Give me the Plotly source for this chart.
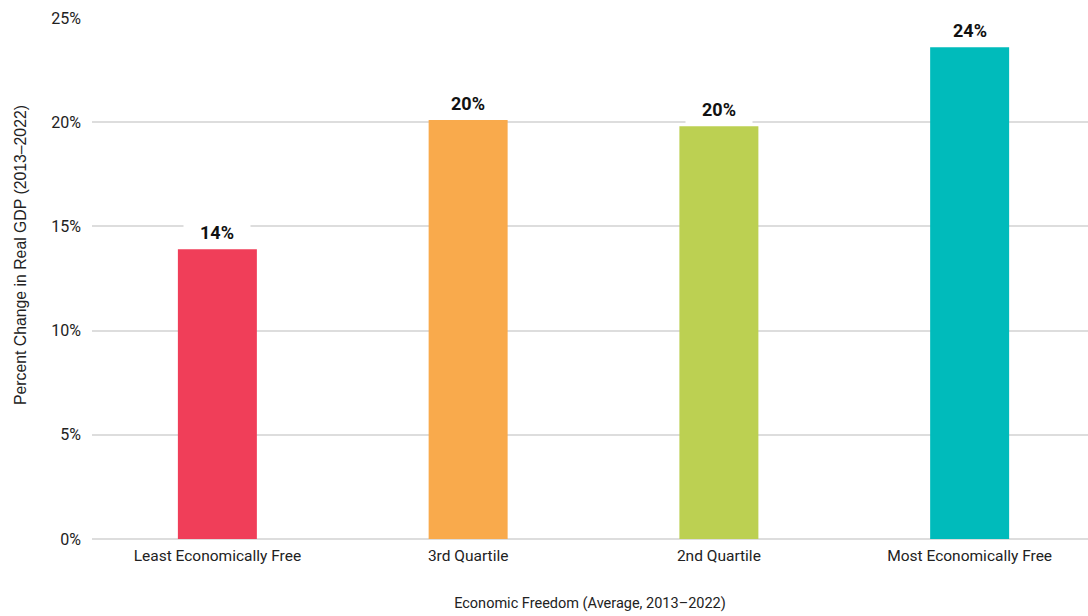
import plotly.graph_objects as go

# Economic freedom quartiles and their real GDP growth, 2013-2022 (percent)
categories = ["Least Economically Free", "3rd Quartile", "2nd Quartile", "Most Economically Free"]
gdp_change = [13.9, 20.1, 19.8, 23.6]
bar_colors = ["#F03E59", "#F9AA4C", "#BCD052", "#00BBBB"]
y_ticks = [0, 5, 10, 15, 20, 25]
y_tick_labels = ["0%", "5%", "10%", "15%", "20%", "25%"]

FONT = "Roboto"

fig = go.Figure(
    go.Bar(
        x=categories,
        y=gdp_change,
        marker=dict(color=bar_colors, line=dict(width=0)),
        width=0.315,
        hoverinfo="skip",
    )
)

# Value labels above each bar, on a white box that hides the gridline behind them
for cat, val in zip(categories, gdp_change):
    fig.add_annotation(
        x=cat,
        y=val,
        yanchor="bottom",
        yshift=1,
        text=f"<b>{val:.0f}%</b>",
        showarrow=False,
        font=dict(family=FONT, size=18, color="#111111"),
        bgcolor="white",
        width=58,
        borderpad=4,
    )

# Vertical axis title, placed slightly above the middle of the plot
fig.add_annotation(
    xref="paper",
    yref="paper",
    x=0,
    y=0.545,
    xshift=-72,
    xanchor="center",
    yanchor="middle",
    textangle=-90,
    text="Percent Change in Real GDP (2013\u20132022)",
    showarrow=False,
    font=dict(family="Liberation Sans", size=15.8, color="#222222"),
)

fig.update_layout(
    width=1088,
    height=616,
    margin=dict(l=92, r=0, t=18, b=77),
    paper_bgcolor="white",
    plot_bgcolor="white",
    showlegend=False,
    font=dict(family=FONT, size=14, color="#222222"),
    xaxis=dict(
        range=[-0.5, 3.472],
        showgrid=False,
        showline=False,
        zeroline=False,
        ticks="",
        ticklabelstandoff=5,
        tickfont=dict(family=FONT, size=15.5, color="#222222"),
        title=dict(
            text="Economic Freedom (Average, 2013\u20132022)",
            font=dict(family=FONT, size=14.5, color="#222222"),
            standoff=34,
        ),
    ),
    yaxis=dict(
        range=[0, 25],
        tickvals=y_ticks,
        ticktext=y_tick_labels,
        showgrid=True,
        gridcolor="#DDDDDD",
        gridwidth=2,
        zeroline=True,
        zerolinecolor="#DDDDDD",
        zerolinewidth=2,
        showline=False,
        ticks="",
        ticklabelstandoff=10,
        tickfont=dict(family=FONT, size=16, color="#222222"),
    ),
)

fig.write_html("out.html")
